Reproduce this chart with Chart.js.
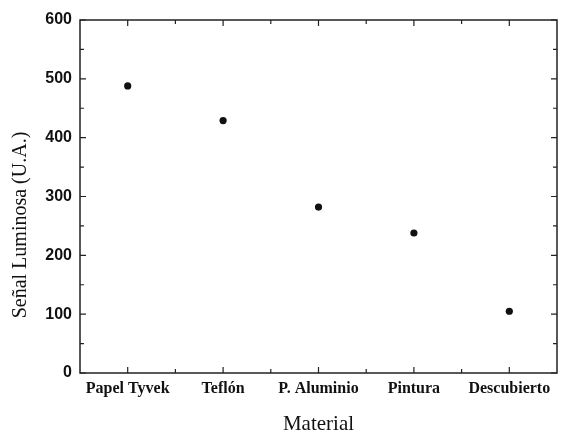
<!DOCTYPE html>
<html lang="es">
<head>
  <meta charset="utf-8"/>
  <title>Señal luminosa por material</title>
  <script src="https://cdn.jsdelivr.net/npm/chart.js"></script>
  <style>
    html,body{margin:0;padding:0;background:#fff}
    .chart-box{position:relative;width:561px;height:433px}
  </style>
</head>
<body>
<div class="chart-box"><canvas id="senal"></canvas></div>

<script>
const materiales=['Papel Tyvek','Teflón','P. Aluminio','Pintura','Descubierto'];
const senal=[488,429,282,238,105];
const yTicks=[0,100,200,300,400,500,600];
const yTitulo='Señal Luminosa (U.A.)';

// marco completo con marcas hacia dentro en los cuatro lados
const framePlugin={
  id:'frame',
  afterDatasetsDraw(chart){
    const {ctx,chartArea:a,scales:{x,y}}=chart;
    ctx.save();
    ctx.strokeStyle='#222';
    ctx.lineWidth=1.5;
    ctx.strokeRect(a.left,a.top,a.right-a.left,a.bottom-a.top);
    ctx.lineWidth=1.2;
    ctx.beginPath();
    // eje y: mayores cada 100, menores cada 50
    for(let v=0;v<=600;v+=50){
      const py=y.getPixelForValue(v),len=v%100===0?6:4;
      ctx.moveTo(a.left,py);ctx.lineTo(a.left+len,py);
      ctx.moveTo(a.right,py);ctx.lineTo(a.right-len,py);
    }
    // eje x: mayores en cada material, menores entre ellos
    materiales.forEach((m,i)=>{
      const px=x.getPixelForValue(i);
      ctx.moveTo(px,a.bottom);ctx.lineTo(px,a.bottom-6);
      ctx.moveTo(px,a.top);ctx.lineTo(px,a.top+6);
      if(i>0){
        const pm=(px+x.getPixelForValue(i-1))/2;
        ctx.moveTo(pm,a.bottom);ctx.lineTo(pm,a.bottom-4);
        ctx.moveTo(pm,a.top);ctx.lineTo(pm,a.top+4);
      }
    });
    ctx.stroke();

    // título del eje y, algo desplazado hacia abajo
    ctx.fillStyle='#111';
    ctx.font='20px "Liberation Serif", serif';
    ctx.textAlign='center';
    ctx.textBaseline='alphabetic';
    ctx.translate(26,225);
    ctx.rotate(-Math.PI/2);
    ctx.fillText(yTitulo,0,0);
    ctx.restore();
  }
};

new Chart(document.getElementById('senal'),{
  type:'line',
  data:{
    labels:materiales,
    datasets:[{
      data:senal,
      showLine:false,
      pointRadius:3.6,
      pointHoverRadius:3.6,
      pointBackgroundColor:'#111',
      pointBorderColor:'#111',
      pointBorderWidth:0
    }]
  },
  options:{
    responsive:true,
    maintainAspectRatio:false,
    animation:false,
    layout:{padding:{top:20,right:4,left:0,bottom:0}},
    plugins:{legend:{display:false},tooltip:{enabled:false}},
    scales:{
      x:{
        type:'category',
        offset:true,
        grid:{display:false,drawTicks:false},
        border:{display:false},
        ticks:{
          padding:6,
          color:'#111',
          autoSkip:false,
          maxRotation:0,
          font:{family:'"Liberation Serif",serif',size:16,weight:'bold'}
        },
        title:{
          display:true,
          text:'Material',
          color:'#111',
          padding:{top:4,bottom:-4},
          font:{family:'"Liberation Serif",serif',size:21}
        },
        afterFit(s){s.height=60;}
      },
      y:{
        min:0,
        max:600,
        afterBuildTicks(s){s.ticks=yTicks.map(v=>({value:v}));},
        grid:{display:false,drawTicks:false},
        border:{display:false},
        ticks:{
          padding:8,
          color:'#111',
          font:{family:'"Liberation Sans",Arial,sans-serif',size:16,weight:'bold'}
        },
        afterFit(s){s.width=80;}
      }
    }
  },
  plugins:[framePlugin]
});
</script>
</body>
</html>
